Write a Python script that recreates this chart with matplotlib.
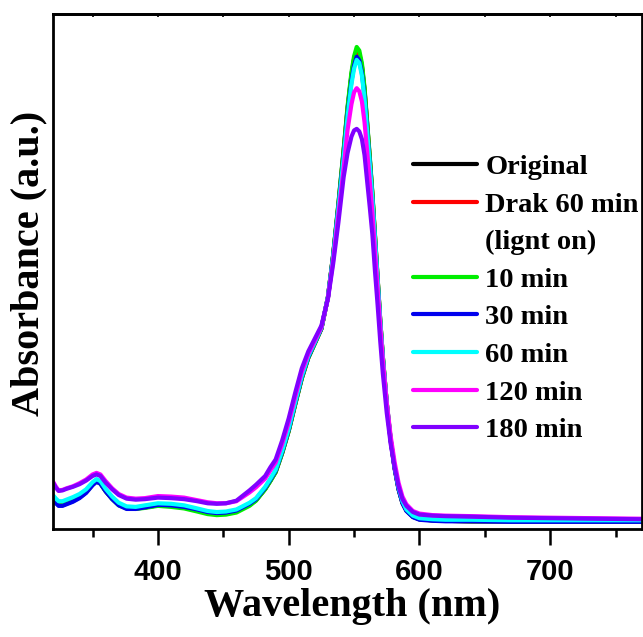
import matplotlib
matplotlib.use("Agg")
import matplotlib.pyplot as plt
from matplotlib.lines import Line2D

# wavelength grid (nm) and absorbance
wavelength = [320, 322, 324, 327, 330, 335, 340, 345, 350, 353,
              356, 360, 365, 370, 376, 383, 390, 400, 410, 420,
              430, 438, 445, 452, 460, 470, 475, 482, 486, 490,
              495, 500, 505, 510, 515, 520, 525, 530, 534, 538,
              542, 545, 548, 550, 552, 554, 556, 558, 560, 562,
              564, 566, 568, 570, 572, 575, 578, 581, 584, 587,
              590, 595, 600, 610, 620, 640, 670, 700, 735, 770]

original = [0.058, 0.052, 0.047, 0.047, 0.050, 0.055, 0.062, 0.072, 0.087, 0.093,
            0.089, 0.074, 0.059, 0.047, 0.041, 0.040, 0.042, 0.046, 0.045, 0.042,
            0.036, 0.031, 0.029, 0.030, 0.034, 0.047, 0.056, 0.078, 0.094, 0.111,
            0.148, 0.191, 0.243, 0.293, 0.333, 0.361, 0.389, 0.450, 0.532, 0.630,
            0.734, 0.816, 0.882, 0.913, 0.930, 0.923, 0.899, 0.853, 0.787, 0.720,
            0.650, 0.568, 0.487, 0.405, 0.334, 0.244, 0.173, 0.119, 0.078, 0.051,
            0.036, 0.024, 0.019, 0.017, 0.016, 0.015, 0.015, 0.015, 0.015, 0.015]
dark60 = [0.058, 0.052, 0.047, 0.047, 0.050, 0.055, 0.062, 0.072, 0.087, 0.093,
          0.089, 0.074, 0.059, 0.047, 0.041, 0.040, 0.042, 0.046, 0.045, 0.042,
          0.036, 0.031, 0.029, 0.030, 0.034, 0.047, 0.056, 0.078, 0.094, 0.111,
          0.148, 0.191, 0.243, 0.293, 0.333, 0.361, 0.389, 0.450, 0.531, 0.628,
          0.732, 0.814, 0.879, 0.910, 0.927, 0.920, 0.896, 0.850, 0.785, 0.718,
          0.648, 0.567, 0.486, 0.405, 0.334, 0.244, 0.173, 0.119, 0.078, 0.051,
          0.036, 0.024, 0.019, 0.017, 0.016, 0.015, 0.015, 0.015, 0.015, 0.015]
min10 = [0.057, 0.051, 0.046, 0.046, 0.049, 0.054, 0.061, 0.071, 0.086, 0.092,
         0.088, 0.073, 0.058, 0.046, 0.040, 0.039, 0.041, 0.045, 0.043, 0.040,
         0.034, 0.029, 0.027, 0.028, 0.032, 0.045, 0.055, 0.077, 0.093, 0.110,
         0.147, 0.190, 0.242, 0.292, 0.332, 0.360, 0.389, 0.450, 0.533, 0.632,
         0.737, 0.820, 0.887, 0.918, 0.936, 0.929, 0.904, 0.857, 0.790, 0.723,
         0.652, 0.570, 0.488, 0.406, 0.335, 0.244, 0.173, 0.119, 0.078, 0.051,
         0.036, 0.024, 0.019, 0.017, 0.016, 0.015, 0.015, 0.015, 0.015, 0.015]
min30 = [0.055, 0.050, 0.045, 0.045, 0.048, 0.053, 0.060, 0.070, 0.085, 0.092,
         0.088, 0.073, 0.058, 0.046, 0.039, 0.039, 0.042, 0.047, 0.046, 0.043,
         0.038, 0.033, 0.031, 0.032, 0.036, 0.049, 0.058, 0.080, 0.096, 0.113,
         0.150, 0.193, 0.245, 0.295, 0.334, 0.362, 0.390, 0.450, 0.530, 0.625,
         0.725, 0.805, 0.870, 0.900, 0.917, 0.910, 0.885, 0.840, 0.775, 0.710,
         0.640, 0.560, 0.480, 0.400, 0.330, 0.240, 0.170, 0.117, 0.077, 0.050,
         0.035, 0.023, 0.018, 0.016, 0.015, 0.015, 0.014, 0.014, 0.014, 0.014]
min60 = [0.065, 0.059, 0.054, 0.054, 0.057, 0.062, 0.068, 0.077, 0.091, 0.097,
         0.093, 0.078, 0.063, 0.051, 0.044, 0.043, 0.046, 0.050, 0.049, 0.046,
         0.040, 0.035, 0.033, 0.034, 0.038, 0.051, 0.060, 0.082, 0.098, 0.115,
         0.152, 0.195, 0.247, 0.297, 0.336, 0.363, 0.391, 0.450, 0.528, 0.622,
         0.720, 0.800, 0.864, 0.894, 0.911, 0.905, 0.880, 0.836, 0.772, 0.708,
         0.640, 0.562, 0.483, 0.404, 0.334, 0.245, 0.175, 0.121, 0.081, 0.054,
         0.038, 0.026, 0.021, 0.019, 0.018, 0.018, 0.017, 0.017, 0.017, 0.017]
min120 = [0.091, 0.082, 0.075, 0.076, 0.079, 0.083, 0.089, 0.096, 0.106, 0.109,
          0.106, 0.093, 0.079, 0.068, 0.061, 0.059, 0.060, 0.064, 0.063, 0.061,
          0.056, 0.052, 0.050, 0.050, 0.054, 0.071, 0.081, 0.098, 0.114, 0.129,
          0.165, 0.207, 0.257, 0.305, 0.340, 0.366, 0.392, 0.448, 0.522, 0.610,
          0.700, 0.775, 0.825, 0.848, 0.856, 0.850, 0.830, 0.790, 0.733, 0.675,
          0.615, 0.540, 0.468, 0.395, 0.328, 0.245, 0.180, 0.130, 0.090, 0.063,
          0.048, 0.035, 0.030, 0.027, 0.026, 0.025, 0.023, 0.022, 0.021, 0.020]
min180 = [0.089, 0.080, 0.074, 0.075, 0.078, 0.082, 0.087, 0.094, 0.103, 0.106,
          0.103, 0.090, 0.077, 0.066, 0.059, 0.057, 0.058, 0.061, 0.060, 0.058,
          0.054, 0.050, 0.049, 0.050, 0.055, 0.075, 0.086, 0.103, 0.120, 0.135,
          0.172, 0.215, 0.265, 0.312, 0.345, 0.370, 0.395, 0.447, 0.515, 0.595,
          0.683, 0.730, 0.762, 0.774, 0.777, 0.772, 0.757, 0.726, 0.675, 0.625,
          0.572, 0.500, 0.435, 0.365, 0.302, 0.225, 0.165, 0.120, 0.083, 0.058,
          0.045, 0.033, 0.028, 0.026, 0.025, 0.024, 0.022, 0.021, 0.020, 0.019]

series = [original, dark60, min10, min30, min60, min120, min180]
labels = ["Original", "Drak 60 min", "10 min", "30 min", "60 min", "120 min", "180 min"]
colors = ["#000000", "#ff0000", "#00ee00", "#0000ee", "#00ffff", "#ff00ff", "#8000ff"]

fig = plt.figure(figsize=(6.43, 6.37), dpi=100)
ax = fig.add_axes([0.083, 0.1695, 0.915, 0.8085])

handles = []
for y, lab, c in zip(series, labels, colors):
    h, = ax.plot(wavelength, y, color=c, lw=3, label=lab,
                 solid_capstyle="round", solid_joinstyle="round")
    handles.append(h)

# the red entry runs over two lines, the second line has no marker
blank = Line2D([], [], color="none")
leg_handles = handles[:2] + [blank] + handles[2:]
leg_labels = labels[:2] + ["(lignt on)"] + labels[2:]

ax.set_xlim(320, 770)
ax.set_ylim(0, 1.0)
ax.set_xticks([400, 500, 600, 700])
ax.set_xticks([350, 450, 550, 650, 750], minor=True)
ax.set_yticks([])

for s in ax.spines.values():
    s.set_linewidth(2)

ax.tick_params(axis="x", which="major", direction="out", length=11.5, width=1.8, pad=9)
ax.tick_params(axis="x", which="minor", direction="out", length=6, width=1.8)

# top ticks are only tiny notches in the picture
secx = ax.secondary_xaxis("top")
secx.set_xticks([350, 400, 450, 500, 550, 600, 650, 700, 750])
secx.tick_params(direction="in", length=2, width=1.2, labeltop=False)
secx.spines["top"].set_linewidth(2)

for lab in ax.get_xticklabels():
    lab.set_fontfamily("Liberation Sans")
    lab.set_fontweight("bold")
    lab.set_fontsize(21)

ax.set_xlabel("Wavelength (nm)", fontfamily="Liberation Serif", fontweight="bold",
              fontsize=29, labelpad=2)
ax.set_ylabel("Absorbance (a.u.)", fontfamily="Liberation Serif", fontweight="bold",
              fontsize=29, labelpad=4)
ax.xaxis.label.set_x(0.508)
ax.yaxis.label.set_y(0.515)

ax.legend(leg_handles, leg_labels, loc="upper left", bbox_to_anchor=(0.611, 0.728),
          frameon=False, borderpad=0, borderaxespad=0, handlelength=2.27,
          handletextpad=0.28, labelspacing=0.41,
          prop={"family": "Liberation Serif", "weight": "bold", "size": 20.5})

fig.savefig("out.png", dpi=100)
